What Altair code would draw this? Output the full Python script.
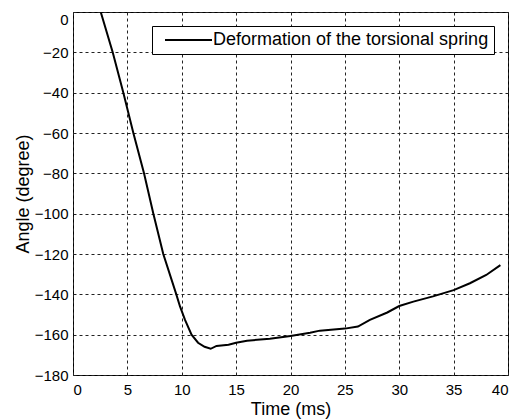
import altair as alt
import pandas as pd

time_ms = [2.55, 3.65, 4.63, 5.55, 6.53, 7.39, 8.3, 9.47, 9.84, 10.3, 10.9, 11.5, 12.1,
           12.66, 13.2, 14.3, 15.0, 16.0, 18.1, 20.0, 21.8, 22.7, 25.0, 26.2, 27.3, 28.9,
           30.0, 31.3, 33.1, 35.0, 36.5, 38.0, 39.3]
angle_deg = [0, -20, -40, -60, -80, -100, -120, -139.5, -146, -152.7, -160, -164, -166,
             -167, -165.6, -165, -164, -163, -162, -160.7, -159, -158, -157, -156, -152.7,
             -149, -145.8, -143.6, -141, -137.9, -134.5, -130.4, -125.5]
series_name = "Deformation of the torsional spring"
x_ticks = [0, 5, 10, 15, 20, 25, 30, 35, 40]
y_ticks = [-180, -160, -140, -120, -100, -80, -60, -40, -20, 0]

df = pd.DataFrame({"t": time_ms, "a": angle_deg, "s": [series_name] * len(time_ms)})

FONT = "Liberation Sans"

chart = alt.Chart(df).mark_line(strokeWidth=2, color="black", clip=True).encode(
    x=alt.X("t:Q", scale=alt.Scale(domain=[0, 40], nice=False, zero=False),
            axis=alt.Axis(values=x_ticks, title="Time (ms)", grid=True, ticks=False,
                          labelPadding=7, titlePadding=3)),
    y=alt.Y("a:Q", scale=alt.Scale(domain=[-180, 0], nice=False, zero=False),
            axis=alt.Axis(values=y_ticks, title="Angle (degree)", grid=True, ticks=False,
                          labelPadding=5, titlePadding=2,
                          labelBaseline={"condition": {"test": "datum.value == 0", "value": "top"},
                                         "value": "middle"})),
    color=alt.Color("s:N", scale=alt.Scale(domain=[series_name], range=["black"]),
                    legend=alt.Legend(title=None, orient="none", legendX=79, legendY=14,
                                      symbolType="M-0.2,0L9.2,0", symbolSize=100,
                                      symbolStrokeWidth=2, labelFontSize=18,
                                      labelFont=FONT, labelColor="black", labelLimit=0,
                                      labelOffset=38, padding=5,
                                      strokeColor="black", fillColor="white")),
    order="t:Q",
).properties(
    width=435, height=363,
    background="white",
    autosize=alt.AutoSizeParams(type="none"),
    padding={"left": 65, "top": 4, "right": 6, "bottom": 45},
).configure_view(
    stroke="black", strokeWidth=1
).configure_axis(
    domain=False, gridColor="#222222", gridDash=[3, 3], gridWidth=1, gridOpacity=1,
    labelFont=FONT, labelFontSize=15, labelColor="black",
    titleFont=FONT, titleFontSize=18, titleFontWeight="normal", titleColor="black",
)

chart.save("out.html", embed_options={"renderer": "svg", "actions": False})
